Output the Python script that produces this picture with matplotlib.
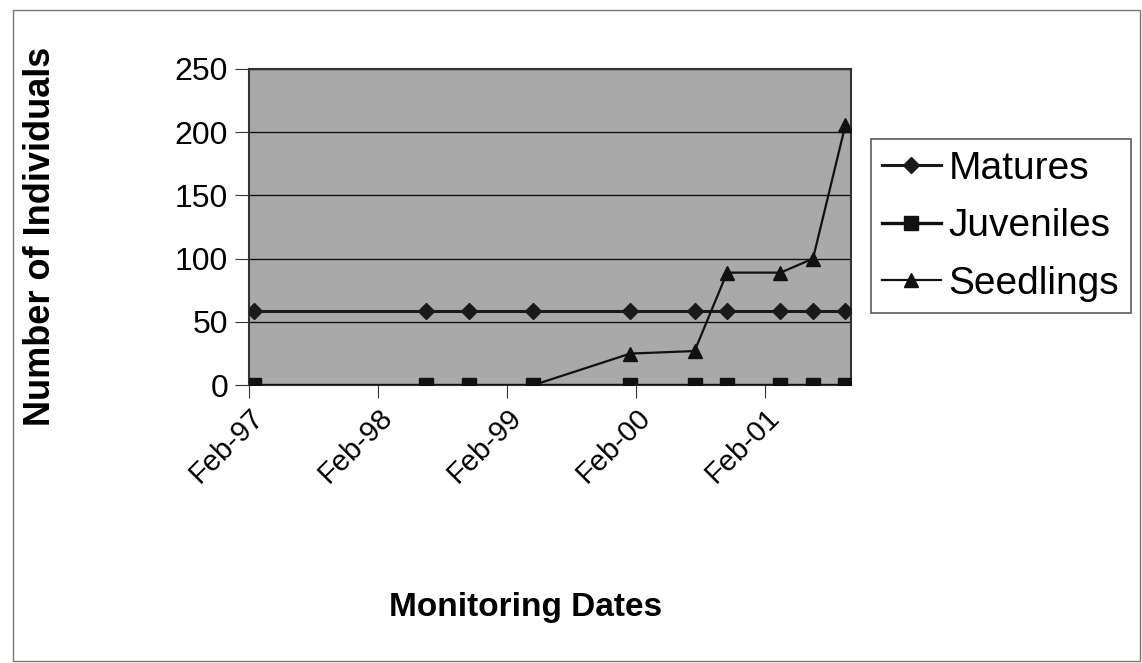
import matplotlib.pyplot as plt
import matplotlib.dates as mdates
from matplotlib.patches import Rectangle
from datetime import date

plt.rcParams["font.family"] = ["Liberation Sans", "DejaVu Sans"]

# monitoring dates (mid-month)
dates = [date(1997, 2, 16), date(1998, 6, 16), date(1998, 10, 16), date(1999, 4, 16),
         date(2000, 1, 16), date(2000, 7, 16), date(2000, 10, 16), date(2001, 3, 16),
         date(2001, 6, 16), date(2001, 9, 16)]
matures = [59, 59, 59, 59, 59, 59, 59, 59, 59, 59]
juveniles = [0, 0, 0, 0, 0, 0, 0, 0, 0, 0]
seedlings = [0, 0, 0, 0, 25, 27, 89, 89, 100, 206]

tick_dates = [date(1997, 2, 1), date(1998, 2, 1), date(1999, 2, 1), date(2000, 2, 1), date(2001, 2, 1)]
tick_labels = ["Feb-97", "Feb-98", "Feb-99", "Feb-00", "Feb-01"]

fig = plt.figure(figsize=(11.42, 6.63), dpi=100)
ax = fig.add_axes([0.218, 0.419, 0.527, 0.477])
ax.set_facecolor("#a9a9a9")

ax.plot(dates, matures, color="#1a1a1a", lw=2.2, marker="D", ms=8, label="Matures", zorder=3)
ax.plot(dates, juveniles, color="#111111", lw=2.4, marker="s", ms=10.5, label="Juveniles", zorder=4)
ax.plot(dates, seedlings, color="#111111", lw=1.6, marker="^", ms=10, label="Seedlings", zorder=3)

ax.set_xlim(date(1997, 2, 1), date(2001, 10, 1))
ax.set_ylim(0, 250)
ax.set_yticks([0, 50, 100, 150, 200, 250])
ax.set_xticks([mdates.date2num(d) for d in tick_dates])
ax.set_xticklabels(tick_labels, rotation=45, ha="right", rotation_mode="anchor")
ax.tick_params(axis="x", labelsize=21, length=9, pad=4, color="#333333")
ax.tick_params(axis="y", labelsize=23, length=10, pad=5, color="#333333")
ax.yaxis.grid(True, color="#111111", lw=1)
ax.set_axisbelow(True)
for s in ax.spines.values():
    s.set_color("#333333")
    s.set_linewidth(1.5)

ax.set_ylabel("Number of Individuals", fontsize=26, fontweight="bold")
ax.set_xlabel("Monitoring Dates", fontsize=24, fontweight="bold")
ax.yaxis.set_label_coords(-0.318, 0.47)
ax.xaxis.set_label_coords(0.46, -0.655)

leg = ax.legend(loc="upper left", bbox_to_anchor=(1.033, 0.778), fontsize=28, frameon=True,
                fancybox=False, edgecolor="#333333", handlelength=1.5, handletextpad=0.2,
                borderpad=0.3, labelspacing=0.55, borderaxespad=0)
leg.get_frame().set_linewidth(1.2)

fig.patches.append(Rectangle((0.011, 0.003), 0.987, 0.982, transform=fig.transFigure,
                             fill=False, edgecolor="#777777", lw=1))

fig.savefig("out.png", dpi=100)
